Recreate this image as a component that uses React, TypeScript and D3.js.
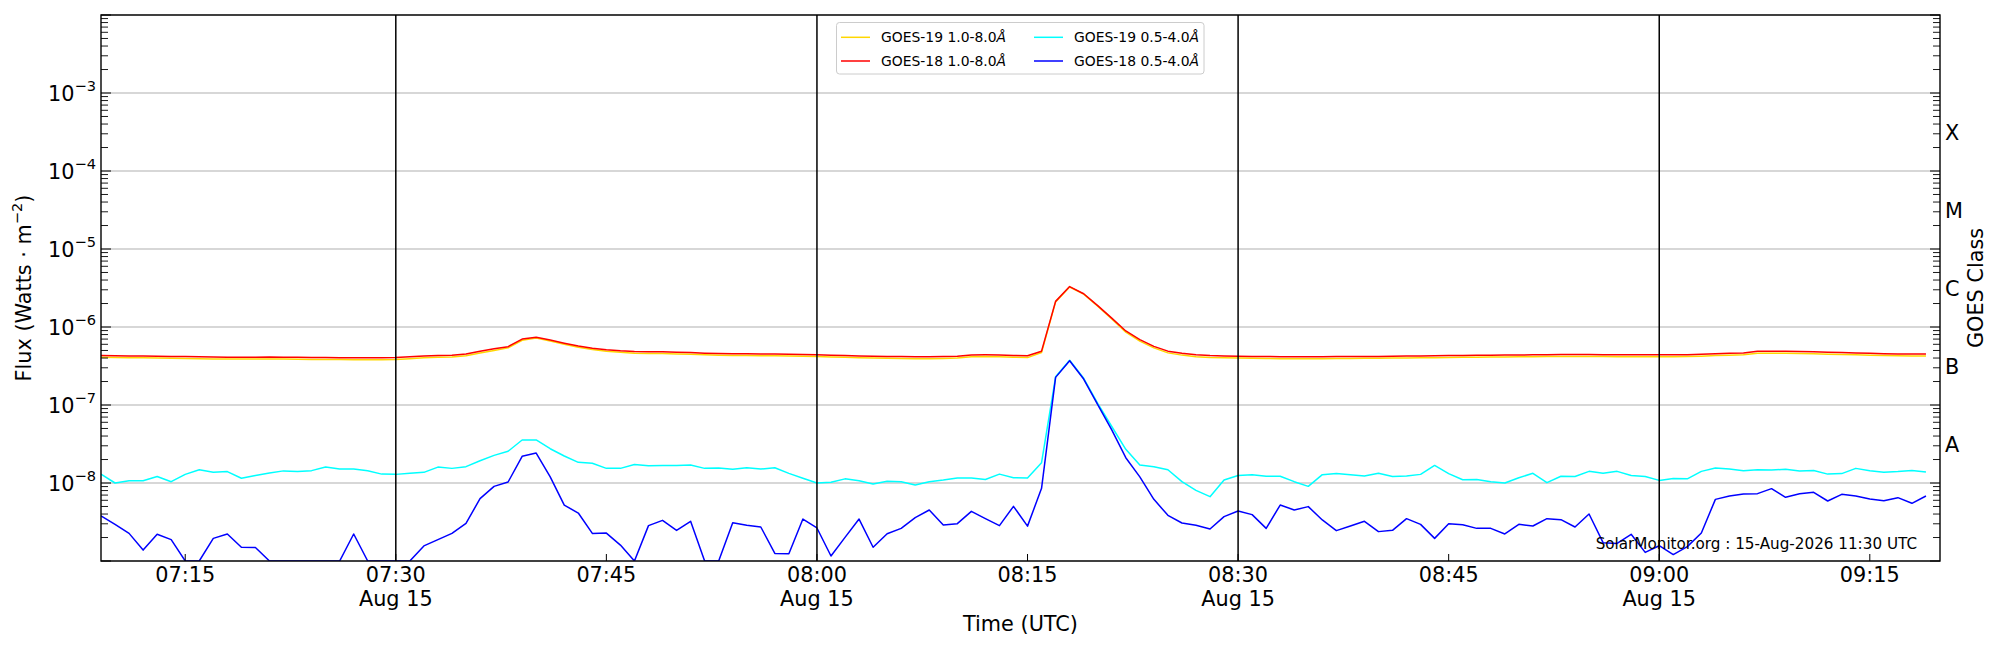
import React from 'react';
import * as d3 from 'd3';

// ---- data (1-minute cadence starting 2026-08-15 07:09 UTC) ----
const START_UTC = Date.UTC(2026, 7, 15, 7, 9);
const X_END_UTC = Date.UTC(2026, 7, 15, 9, 20);

const goes19Long = [
  4.08e-7, 4.06e-7, 4.04e-7, 4.02e-7, 4.0e-7, 3.98e-7, 3.96e-7, 3.93e-7, 3.9e-7, 3.88e-7,
  3.88e-7, 3.88e-7, 3.9e-7, 3.88e-7, 3.86e-7, 3.84e-7, 3.84e-7, 3.82e-7, 3.81e-7, 3.81e-7,
  3.81e-7, 3.84e-7, 3.93e-7, 4.02e-7, 4.08e-7, 4.12e-7, 4.28e-7, 4.65e-7, 5.0e-7, 5.4e-7,
  6.75e-7, 7.2e-7, 6.6e-7, 6.0e-7, 5.5e-7, 5.15e-7, 4.9e-7, 4.75e-7, 4.62e-7, 4.57e-7,
  4.57e-7, 4.52e-7, 4.47e-7, 4.4e-7, 4.35e-7, 4.32e-7, 4.32e-7, 4.28e-7, 4.28e-7, 4.25e-7,
  4.22e-7, 4.18e-7, 4.12e-7, 4.08e-7, 4.03e-7, 4.0e-7, 3.98e-7, 3.96e-7, 3.93e-7, 3.93e-7,
  3.96e-7, 4.0e-7, 4.16e-7, 4.18e-7, 4.15e-7, 4.1e-7, 4.05e-7, 4.7e-7, 2.1e-6, 3.26e-6,
  2.64e-6, 1.85e-6, 1.27e-6, 8.6e-7, 6.6e-7, 5.4e-7, 4.66e-7, 4.36e-7, 4.16e-7, 4.07e-7,
  4.02e-7, 3.99e-7, 3.97e-7, 3.95e-7, 3.93e-7, 3.92e-7, 3.92e-7, 3.93e-7, 3.95e-7, 3.95e-7,
  3.97e-7, 3.97e-7, 3.99e-7, 4.01e-7, 4.02e-7, 4.04e-7, 4.06e-7, 4.08e-7, 4.09e-7, 4.11e-7,
  4.12e-7, 4.14e-7, 4.16e-7, 4.18e-7, 4.19e-7, 4.19e-7, 4.19e-7, 4.18e-7, 4.17e-7, 4.16e-7,
  4.16e-7, 4.16e-7, 4.16e-7, 4.18e-7, 4.23e-7, 4.3e-7, 4.35e-7, 4.4e-7, 4.62e-7, 4.62e-7,
  4.6e-7, 4.57e-7, 4.53e-7, 4.48e-7, 4.44e-7, 4.4e-7, 4.35e-7, 4.3e-7, 4.28e-7, 4.26e-7,
  4.26e-7,
];

const goes18Long = [
  4.3e-7, 4.28e-7, 4.26e-7, 4.24e-7, 4.22e-7, 4.2e-7, 4.18e-7, 4.15e-7, 4.12e-7, 4.1e-7,
  4.1e-7, 4.1e-7, 4.12e-7, 4.1e-7, 4.08e-7, 4.05e-7, 4.05e-7, 4.03e-7, 4.02e-7, 4.02e-7,
  4.02e-7, 4.05e-7, 4.15e-7, 4.25e-7, 4.3e-7, 4.35e-7, 4.5e-7, 4.9e-7, 5.25e-7, 5.6e-7,
  7.0e-7, 7.4e-7, 6.8e-7, 6.2e-7, 5.7e-7, 5.35e-7, 5.1e-7, 4.95e-7, 4.85e-7, 4.8e-7,
  4.8e-7, 4.75e-7, 4.7e-7, 4.62e-7, 4.58e-7, 4.55e-7, 4.55e-7, 4.5e-7, 4.5e-7, 4.48e-7,
  4.45e-7, 4.4e-7, 4.35e-7, 4.3e-7, 4.25e-7, 4.22e-7, 4.2e-7, 4.18e-7, 4.15e-7, 4.15e-7,
  4.18e-7, 4.22e-7, 4.38e-7, 4.4e-7, 4.38e-7, 4.32e-7, 4.28e-7, 4.9e-7, 2.13e-6, 3.3e-6,
  2.67e-6, 1.88e-6, 1.3e-6, 8.9e-7, 6.9e-7, 5.65e-7, 4.9e-7, 4.6e-7, 4.4e-7, 4.3e-7,
  4.25e-7, 4.22e-7, 4.2e-7, 4.18e-7, 4.16e-7, 4.15e-7, 4.15e-7, 4.16e-7, 4.18e-7, 4.18e-7,
  4.2e-7, 4.2e-7, 4.22e-7, 4.24e-7, 4.26e-7, 4.28e-7, 4.3e-7, 4.32e-7, 4.33e-7, 4.35e-7,
  4.36e-7, 4.38e-7, 4.4e-7, 4.42e-7, 4.43e-7, 4.43e-7, 4.43e-7, 4.42e-7, 4.41e-7, 4.4e-7,
  4.4e-7, 4.4e-7, 4.4e-7, 4.42e-7, 4.48e-7, 4.55e-7, 4.6e-7, 4.65e-7, 4.9e-7, 4.9e-7,
  4.88e-7, 4.85e-7, 4.8e-7, 4.75e-7, 4.7e-7, 4.65e-7, 4.6e-7, 4.55e-7, 4.52e-7, 4.5e-7,
  4.5e-7,
];

const goes19Short = [
  1.3e-8, 1.0e-8, 1.07e-8, 1.07e-8, 1.21e-8, 1.04e-8, 1.29e-8, 1.48e-8, 1.37e-8, 1.4e-8,
  1.15e-8, 1.25e-8, 1.34e-8, 1.43e-8, 1.4e-8, 1.44e-8, 1.6e-8, 1.51e-8, 1.51e-8, 1.44e-8,
  1.3e-8, 1.29e-8, 1.33e-8, 1.37e-8, 1.6e-8, 1.54e-8, 1.62e-8, 1.93e-8, 2.26e-8, 2.55e-8,
  3.56e-8, 3.56e-8, 2.75e-8, 2.22e-8, 1.84e-8, 1.79e-8, 1.54e-8, 1.54e-8, 1.73e-8, 1.67e-8,
  1.68e-8, 1.68e-8, 1.7e-8, 1.54e-8, 1.56e-8, 1.5e-8, 1.57e-8, 1.51e-8, 1.57e-8, 1.33e-8,
  1.15e-8, 1.0e-8, 1.02e-8, 1.13e-8, 1.07e-8, 9.7e-9, 1.05e-8, 1.04e-8, 9.4e-9, 1.04e-8,
  1.09e-8, 1.16e-8, 1.16e-8, 1.11e-8, 1.3e-8, 1.17e-8, 1.16e-8, 1.82e-8, 2.3e-7, 3.75e-7,
  2.2e-7, 1.05e-7, 5.3e-8, 2.7e-8, 1.7e-8, 1.62e-8, 1.48e-8, 1.04e-8, 8.05e-9, 6.68e-9,
  1.09e-8, 1.25e-8, 1.28e-8, 1.22e-8, 1.22e-8, 1.04e-8, 9.06e-9, 1.28e-8, 1.32e-8, 1.28e-8,
  1.23e-8, 1.33e-8, 1.21e-8, 1.23e-8, 1.29e-8, 1.68e-8, 1.32e-8, 1.1e-8, 1.11e-8, 1.04e-8,
  1.0e-8, 1.17e-8, 1.33e-8, 1.01e-8, 1.22e-8, 1.21e-8, 1.41e-8, 1.33e-8, 1.41e-8, 1.25e-8,
  1.21e-8, 1.08e-8, 1.14e-8, 1.13e-8, 1.41e-8, 1.56e-8, 1.51e-8, 1.44e-8, 1.48e-8, 1.47e-8,
  1.5e-8, 1.43e-8, 1.45e-8, 1.3e-8, 1.32e-8, 1.54e-8, 1.44e-8, 1.37e-8, 1.4e-8, 1.45e-8,
  1.38e-8,
];

const goes18Short = [
  3.78e-9, 2.95e-9, 2.26e-9, 1.38e-9, 2.2e-9, 1.88e-9, 1.0e-9, 1.0e-9, 1.95e-9, 2.22e-9,
  1.5e-9, 1.49e-9, 1.0e-9, 1.0e-9, 1.0e-9, 1.0e-9, 1.0e-9, 1.0e-9, 2.22e-9, 1.0e-9,
  1.0e-9, 1.0e-9, 1.0e-9, 1.56e-9, 1.88e-9, 2.26e-9, 3.04e-9, 6.3e-9, 9.06e-9, 1.03e-8,
  2.2e-8, 2.42e-8, 1.2e-8, 5.2e-9, 4.12e-9, 2.26e-9, 2.28e-9, 1.6e-9, 1.0e-9, 2.84e-9,
  3.32e-9, 2.47e-9, 3.23e-9, 1.0e-9, 1.0e-9, 3.1e-9, 2.87e-9, 2.73e-9, 1.25e-9, 1.24e-9,
  3.45e-9, 2.65e-9, 1.16e-9, 2.01e-9, 3.45e-9, 1.5e-9, 2.24e-9, 2.62e-9, 3.6e-9, 4.51e-9,
  2.9e-9, 3.01e-9, 4.33e-9, 3.49e-9, 2.84e-9, 5.02e-9, 2.8e-9, 8.55e-9, 2.26e-7, 3.7e-7,
  2.15e-7, 1.01e-7, 4.8e-8, 2.11e-8, 1.2e-8, 6.17e-9, 3.85e-9, 3.07e-9, 2.87e-9, 2.57e-9,
  3.7e-9, 4.38e-9, 3.93e-9, 2.62e-9, 5.22e-9, 4.51e-9, 4.98e-9, 3.36e-9, 2.45e-9, 2.81e-9,
  3.23e-9, 2.38e-9, 2.47e-9, 3.49e-9, 2.95e-9, 1.95e-9, 3.01e-9, 2.92e-9, 2.62e-9, 2.62e-9,
  2.22e-9, 2.95e-9, 2.81e-9, 3.49e-9, 3.39e-9, 2.73e-9, 4.01e-9, 1.72e-9, 1.68e-9, 2.2e-9,
  1.29e-9, 1.57e-9, 1.21e-9, 1.53e-9, 2.29e-9, 6.17e-9, 6.81e-9, 7.23e-9, 7.3e-9, 8.46e-9,
  6.55e-9, 7.3e-9, 7.59e-9, 5.88e-9, 7.16e-9, 6.81e-9, 6.23e-9, 5.94e-9, 6.49e-9, 5.49e-9,
  6.81e-9,
];

const seriesNames = ['GOES-19 1.0-8.0', 'GOES-18 1.0-8.0', 'GOES-19 0.5-4.0', 'GOES-18 0.5-4.0'];
const seriesColors = ['#ffd700', '#ff0000', '#00ffff', '#0000ff'];

const xTickLabels = ['07:15', '07:30', '07:45', '08:00', '08:15', '08:30', '08:45', '09:00', '09:15'];
const dateLabel = 'Aug 15';
const halfHourLines = ['07:30', '08:00', '08:30', '09:00'];
const yTickExponents = [-3, -4, -5, -6, -7, -8];
const goesClasses = ['A', 'B', 'C', 'M', 'X'];
const goesClassExponents = [-7.5, -6.5, -5.5, -4.5, -3.5];
const watermark = 'SolarMonitor.org : 15-Aug-2026 11:30 UTC';

// ---- layout ----
const W = 2000;
const H = 650;
const L = 101;
const R = 1940;
const T = 15;
const B = 561;
const FONT = 'DejaVu Sans, sans-serif';
const FS = 20.8;
const SUP = 14.6;

const toDate = (hm: string) => {
  const [h, m] = hm.split(':').map(Number);
  return new Date(Date.UTC(2026, 7, 15, h, m));
};

export default function App() {
  const x = d3.scaleUtc().domain([new Date(START_UTC), new Date(X_END_UTC)]).range([L, R]);
  const y = d3.scaleLog().domain([1e-9, 1e-2]).range([B, T]);
  const times = goes18Long.map((_, i) => new Date(START_UTC + i * 60000));
  const allSeries = [goes19Long, goes18Long, goes19Short, goes18Short];

  const line = (vals: number[]) =>
    d3.line<number>()
      .x((_, i) => x(times[i]))
      .y((v) => y(v))(vals) || '';

  const decades = d3.range(-9, -1).map((e) => Math.pow(10, e));
  const minors: number[] = [];
  for (let e = -9; e <= -3; e++) for (let m = 2; m <= 9; m++) minors.push(m * Math.pow(10, e));

  return (
    <svg width={W} height={H} style={{ position: 'absolute', left: 0, top: 0, background: '#fff' }}
      fontFamily={FONT}>
      <defs>
        <clipPath id="plotclip"><rect x={L} y={T} width={R - L} height={B - T} /></clipPath>
      </defs>
      <rect x={0} y={0} width={W} height={H} fill="#fff" />
      {/* horizontal grid */}
      {decades.map((d, i) => (
        <line key={'g' + i} x1={L} x2={R} y1={y(d)} y2={y(d)} stroke="#b0b0b0" strokeWidth={1.1} />
      ))}
      {/* data */}
      <g clipPath="url(#plotclip)">
        {allSeries.map((s, i) => (
          <path key={'s' + i} d={line(s)} fill="none" stroke={seriesColors[i]} strokeWidth={1.5}
            strokeLinejoin="round" />
        ))}
      </g>
      {/* half-hour lines */}
      {halfHourLines.map((t) => (
        <line key={'v' + t} x1={x(toDate(t))} x2={x(toDate(t))} y1={T} y2={B} stroke="#000" strokeWidth={1.5} />
      ))}
      {/* y ticks left & right */}
      {decades.map((d, i) => (
        <g key={'mj' + i}>
          <line x1={L} x2={L + 10} y1={y(d)} y2={y(d)} stroke="#000" strokeWidth={1} />
          <line x1={R} x2={R - 10} y1={y(d)} y2={y(d)} stroke="#000" strokeWidth={1} />
        </g>
      ))}
      {minors.map((d, i) => (
        <g key={'mn' + i}>
          <line x1={L} x2={L + 7} y1={y(d)} y2={y(d)} stroke="#000" strokeWidth={0.9} />
          <line x1={R} x2={R - 7} y1={y(d)} y2={y(d)} stroke="#000" strokeWidth={0.9} />
        </g>
      ))}
      {/* x ticks */}
      {xTickLabels.map((t) => {
        const xx = x(toDate(t));
        const showDate = t.endsWith(':00') || t.endsWith(':30');
        return (
          <g key={'xt' + t}>
            <line x1={xx} x2={xx} y1={B} y2={B - 7} stroke="#000" strokeWidth={1} />
            <text x={xx} y={582} textAnchor="middle" fontSize={FS}>{t}</text>
            {showDate && <text x={xx} y={606} textAnchor="middle" fontSize={FS}>{dateLabel}</text>}
          </g>
        );
      })}
      {/* y tick labels */}
      {yTickExponents.map((e) => (
        <text key={'yl' + e} x={96} y={y(Math.pow(10, e)) + 7.5} textAnchor="end" fontSize={FS}>
          10<tspan dy={-9.5} fontSize={SUP}>{'\u2212' + Math.abs(e)}</tspan>
        </text>
      ))}
      {/* GOES class labels */}
      {goesClasses.map((c, i) => (
        <text key={'gc' + c} x={1945} y={y(Math.pow(10, goesClassExponents[i])) + 7.5} fontSize={FS}>{c}</text>
      ))}
      <text transform={`translate(1983,${(T + B) / 2}) rotate(-90)`} textAnchor="middle" fontSize={FS}>GOES Class</text>
      {/* axis labels */}
      <text x={(L + R) / 2} y={631} textAnchor="middle" fontSize={FS}>Time (UTC)</text>
      <text transform={`translate(31,${(T + B) / 2}) rotate(-90)`} textAnchor="middle" fontSize={FS}>
        Flux (Watts · m<tspan dy={-9} fontSize={SUP}>{'\u22122'}</tspan><tspan dy={9}>)</tspan>
      </text>
      {/* spines */}
      <rect x={L} y={T} width={R - L} height={B - T} fill="none" stroke="#000" strokeWidth={1.4} />
      {/* legend */}
      <g>
        <rect x={836.5} y={22.5} width={367.5} height={51.5} rx={3} fill="#fff" fillOpacity={0.8}
          stroke="#cccccc" strokeWidth={1} />
        {seriesNames.map((n, i) => {
          const col = Math.floor(i / 2);
          const row = i % 2;
          const lx = col === 0 ? 841 : 1034;
          const ly = row === 0 ? 37.3 : 61;
          return (
            <g key={'lg' + i}>
              <line x1={lx} x2={lx + 29} y1={ly} y2={ly} stroke={seriesColors[i]} strokeWidth={1.5} />
              <text x={lx + 40} y={ly + 5} fontSize={13.9}>
                {n}<tspan fontStyle="italic">Å</tspan>
              </text>
            </g>
          );
        })}
      </g>
      {/* watermark */}
      <text x={1917} y={549} textAnchor="end" fontSize={15.2}>{watermark}</text>
    </svg>
  );
}
